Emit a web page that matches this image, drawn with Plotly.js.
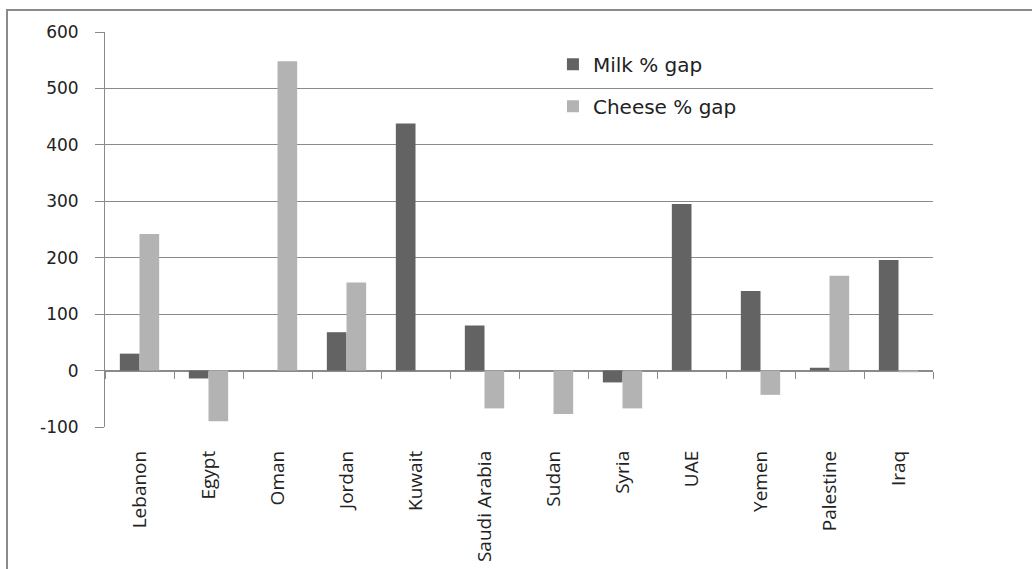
<!DOCTYPE html>
<html>
<head>
<meta charset="utf-8">
<script src="https://cdn.plot.ly/plotly-3.0.1.min.js"></script>
<style>
html, body { margin: 0; padding: 0; background: #fff; }
#frame { position: absolute; left: 6px; top: 9px; width: 1026px; height: 560px;
  border-top: 2px solid #8a8a8a; border-left: 2px solid #8a8a8a; }
#chart { width: 1024px; height: 558px; }
</style>
</head>
<body>
<div id="frame"><div id="chart"></div></div>
<script>
const categories = ["Lebanon", "Egypt", "Oman", "Jordan", "Kuwait", "Saudi Arabia", "Sudan", "Syria", "UAE", "Yemen", "Palestine", "Iraq"];
const milkGap = [30, -14, 0, 68, 438, 80, 0, -21, 295, 141, 5, 196];
const cheeseGap = [242, -90, 548, 156, 0, -67, -77, -67, 0, -43, 168, -3];
const seriesNames = ["Milk % gap", "Cheese % gap"];
const yTicks = [-100, 0, 100, 200, 300, 400, 500, 600];

const traces = [
  { type: "bar", name: seriesNames[0], x: categories, y: milkGap,
    marker: { color: "#636363" }, legendgroup: "a", hoverinfo: "x+y+name" },
  { type: "bar", name: seriesNames[1], x: categories, y: cheeseGap,
    marker: { color: "#b3b3b3" }, legendgroup: "b", hoverinfo: "x+y+name" },
  { type: "scatter", mode: "markers", x: categories, y: categories.map(() => 0),
    xaxis: "x2", marker: { opacity: 0 }, showlegend: false, hoverinfo: "skip" }
];

const layout = {
  width: 1024, height: 558,
  margin: { l: 97, r: 99, t: 21, b: 142, pad: 0 },
  paper_bgcolor: "#ffffff", plot_bgcolor: "#ffffff",
  barmode: "group", bargap: 0.43, bargroupgap: 0,
  showlegend: true,
  legend: { x: 0.541, y: 0.968, xanchor: "left", yanchor: "top",
    traceorder: "grouped", tracegroupgap: 13,
    font: { family: "DejaVu Sans, sans-serif", size: 20, color: "#222" },
    bgcolor: "rgba(0,0,0,0)" },
  xaxis: { type: "category", categoryorder: "array", categoryarray: categories,
    range: [-0.5, 11.5], showline: false, ticks: "", showgrid: false,
    tickangle: -90, ticklabelstandoff: 19,
    tickfont: { family: "Open Sans, sans-serif", size: 19, color: "#222" } },
  xaxis2: { type: "category", categoryorder: "array", categoryarray: categories,
    overlaying: "x", anchor: "free", position: 100 / 700, range: [-0.5, 11.5],
    showline: false, showgrid: false, showticklabels: false,
    ticks: "outside", tickson: "boundaries", ticklen: 7, tickwidth: 1, tickcolor: "#8a8a8a" },
  yaxis: { range: [-100, 600], tickvals: yTicks, ticktext: yTicks.map(String),
    showline: true, linecolor: "#8a8a8a", linewidth: 1,
    ticks: "outside", ticklen: 9, tickcolor: "#8a8a8a",
    showgrid: true, gridcolor: "#8a8a8a", gridwidth: 1,
    zeroline: true, zerolinecolor: "#8a8a8a", zerolinewidth: 2,
    ticklabelstandoff: 13,
    tickfont: { family: "DejaVu Sans, sans-serif", size: 17, color: "#222" } }
};

Plotly.newPlot("chart", traces, layout, { displayModeBar: false, staticPlot: true });
</script>
</body>
</html>
